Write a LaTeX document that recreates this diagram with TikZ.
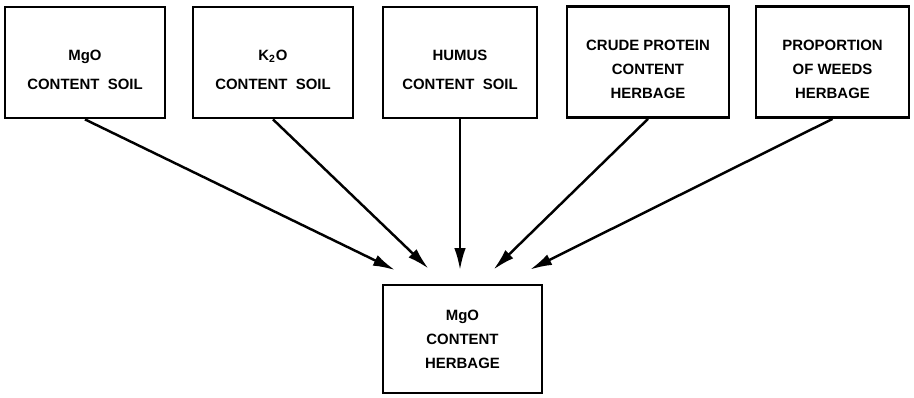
\documentclass[tikz,border=0pt]{standalone}
\usepackage{fontspec}
\setmainfont{Liberation Sans}
\usetikzlibrary{arrows.meta, calc}
\tikzset{>={Latex[length=.44cm, width=.23cm]}}
\tikzset{factor/.style={draw, line width=1.6pt, align=center, inner sep=0pt,
    minimum height=2.22cm, font=\bfseries\fontsize{8.5}{13.6}\selectfont}}
\newcommand{\toppad}{\rule{0pt}{14pt}}

\begin{document}
\begin{tikzpicture}
    \useasboundingbox (0, 0) rectangle (18.28, 7.94);
    \node [factor, minimum width=3.2cm] (mgosoil) at (1.7, 6.69) {\toppad MgO\\[3pt] CONTENT\ \ SOIL};
    \node [factor, minimum width=3.2cm] (kosoil) at (5.46, 6.69) {\toppad K$_{\mathbf 2}$O\\[3pt] CONTENT\ \ SOIL};
    \node [factor, minimum width=3.08cm] (humus) at (9.2, 6.69) {\toppad HUMUS\\[3pt] CONTENT\ \ SOIL};
    \node [factor, minimum width=3.24cm] (protein) at (12.96, 6.7) {\toppad CRUDE PROTEIN\\ CONTENT\\ HERBAGE};
    \node [factor, minimum width=3.06cm] (weeds) at (16.65, 6.7) {\toppad PROPORTION\\ OF WEEDS\\ HERBAGE};
    \node [factor, minimum width=3.18cm, minimum height=2.16cm] (mgoherb) at (9.25, 1.16) {MgO\\ CONTENT\\ HERBAGE};
    \coordinate (t1) at ($(mgoherb.north) + (-1.35, .27)$);
    \coordinate (t2) at ($(mgoherb.north) + (-.68, .3)$);
    \coordinate (t3) at ($(mgoherb.north) + (-.05, .27)$);
    \coordinate (t4) at ($(mgoherb.north) + (.62, .28)$);
    \coordinate (t5) at ($(mgoherb.north) + (1.35, .28)$);
    \draw [->, line width=1.4pt] (mgosoil.south) -- (t1);
    \draw [->, line width=1.4pt] (kosoil.south) -- (t2);
    \draw [->, line width=1.4pt] (humus.south) -- (t3);
    \draw [->, line width=1.4pt] (protein.south) -- (t4);
    \draw [->, line width=1.4pt] (weeds.south) -- (t5);
\end{tikzpicture}
\end{document}
